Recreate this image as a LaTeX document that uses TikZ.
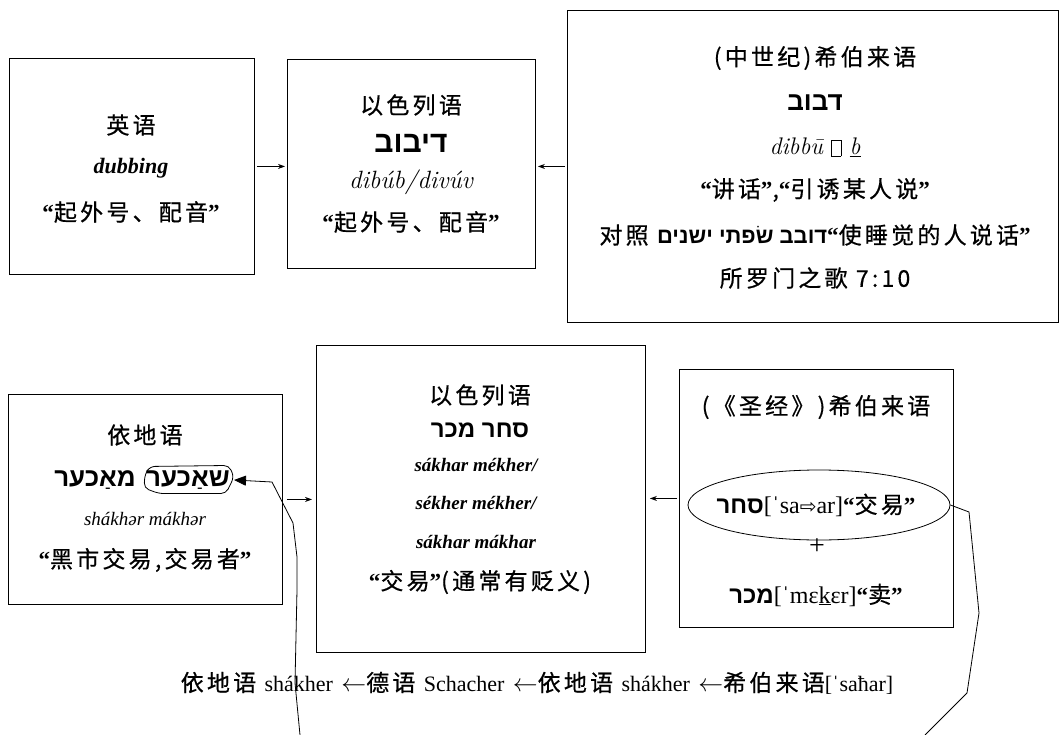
\documentclass[tikz,border=0pt]{standalone}
\usepackage{fontspec}
\usetikzlibrary{arrows.meta,shapes.geometric,calc}
\TeXXeTstate=1
\newfontfamily\cjk[LetterSpace=14,FakeBold=0.6]{Noto Sans CJK SC}
\newfontfamily\heb[Script=Hebrew]{Liberation Sans}
\newfontfamily\tnr{Liberation Serif}
\newfontfamily\dv{DejaVu Sans}
\newcommand\oq{{\tnr\bfseries “}}
\newcommand\cq{{\tnr\bfseries ”}}
\newcommand\missingbox{{\fboxsep=0pt\fboxrule=0.5pt\raisebox{-2pt}{\fbox{\rule{0pt}{16pt}\hspace{9pt}}}}}
\begin{document}
\begin{tikzpicture}[x=1pt,y=-1pt,
  box/.style={draw, line width=0.9pt, anchor=north west, inner sep=0pt},
  tx/.style={inner sep=1pt, font=\cjk\fontsize{23}{26}\selectfont},
  hb/.style={inner sep=1pt, font=\heb\bfseries\fontsize{26}{28}\selectfont},
  arr/.style={-{Stealth[length=7pt,width=5pt]}, line width=0.8pt},
  bigarr/.style={-{Triangle[length=12pt,width=10pt]}, line width=0.8pt},
  conn/.style={line width=0.8pt}]
\fill[white] (0,0) rectangle (1062,735);
\useasboundingbox (0,0) rectangle (1062,735);
% boxes
\node[box, minimum width=245, minimum height=216] (A) at (9,58) {};
\node[box, minimum width=248, minimum height=209] (B) at (287,59) {};
\node[box, minimum width=491, minimum height=312] (C) at (567,10) {};
\node[box, minimum width=274, minimum height=210] (D) at (8,394) {};
\node[box, minimum width=329, minimum height=307] (E) at (316,345) {};
\node[box, minimum width=274, minimum height=258] (F) at (679,369) {};
% box A
\node[tx] (a1) at (131,125) {英语};
\node[tx, font=\tnr\bfseries\itshape\fontsize{22}{26}\selectfont] (a2) at (131,168) {dubbing};
\node[tx] (a3) at (131,212) {\oq 起外号、配音\cq};
% box B
\node[tx] (b1) at (411,105) {以色列语};
\node[hb, font=\heb\bfseries\fontsize{30}{30}\selectfont] (b2) at (411,143) {\beginR דיבוב\endR};
\node[tx, font=\itshape\fontsize{25}{26}\selectfont] (b3) at (411,182) {dibúb/divúv};
\node[tx] (b4) at (411,222) {\oq 起外号、配音\cq};
% box C
\node[tx] (c1) at (815,58) {(中世纪)希伯来语};
\node[hb] (c2) at (815,103) {\beginR דבוב\endR};
\node[tx, font=\itshape\fontsize{24}{26}\selectfont] (c3) at (815,147) {dibbū \missingbox\ \underline{b}};
\node[tx] (c4) at (815,190) {\oq 讲话\cq,\oq 引诱某人说\cq};
\node[tx] (c5) at (815,235) {对照 {\heb\bfseries\fontsize{22}{24}\selectfont\beginR דובב שׂפתי ישנים\endR}\oq 使睡觉的人说话\cq};
\node[tx] (c6) at (815,278) {所罗门之歌 7:10};
% box D
\node[tx] (d1) at (145,435) {依地语};
\node[hb, anchor=east] (mak) at (137,480) {\beginR מאַכער\endR};
\node[hb, anchor=west, inner sep=3pt] (shak) at (143,480) {\beginR שאַכער\endR};
\draw[rounded corners=5pt, line width=0.8pt] ($(shak.west)+(2,-6)$) -- ($(shak.north west)+(7,-1)$) -- ($(shak.north east)+(-4,-2)$) -- ($(shak.east)+(1,-3)$) -- ($(shak.south east)+(-7,1)$) -- ($(shak.south west)+(16,1)$) -- ($(shak.west)+(1,8)$) -- cycle;
\node[tx, font=\tnr\itshape\fontsize{19}{24}\selectfont] (d3) at (145,519) {shákhər mákhər};
\node[tx] (d4) at (145,560) {\oq 黑市交易,交易者\cq};
% box E
\node[tx] (e1) at (480,395) {以色列语};
\node[hb, font=\heb\bfseries\fontsize{24}{26}\selectfont] (e2) at (480,430) {\beginR סחר מכר\endR};
\node[tx, font=\tnr\bfseries\itshape\fontsize{19}{24}\selectfont] (e3) at (476,465) {sákhar mékher/};
\node[tx, font=\tnr\bfseries\itshape\fontsize{19}{24}\selectfont] (e4) at (476,503) {sékher mékher/};
\node[tx, font=\tnr\bfseries\itshape\fontsize{19}{24}\selectfont] (e5) at (476,542) {sákhar mákhar};
\node[tx] (e6) at (480,582) {\oq 交易\cq(通常有贬义)};
% box F
\node[tx] (f1) at (816,407) {(《圣经》)希伯来语};
\node[draw, ellipse, line width=0.8pt, minimum width=262, minimum height=70, inner sep=0pt] (ell) at (819,505) {};
\node[tx] (f2) at (816,505) {{\heb\bfseries\fontsize{24}{26}\selectfont\beginR סחר\endR}{\tnr\fontsize{24}{26}\selectfont[ˈsa{\dv\fontsize{20}{22}\selectfont ⇨}ar]}\oq 交易\cq};
\node[tx, font=\tnr\fontsize{28}{28}\selectfont] (plus) at (817,547) {+};
\node[tx] (f3) at (816,595) {{\heb\bfseries\fontsize{24}{26}\selectfont\beginR מכר\endR}{\tnr\fontsize{24}{26}\selectfont[ˈmɛ\underline{k}ɛr]}\oq 卖\cq};
% bottom line
\node[tx] (bot) at (537,683) {依地语 {\tnr\fontsize{22}{26}\selectfont shákher} $\leftarrow$德语 {\tnr\fontsize{22}{26}\selectfont Schacher} $\leftarrow$依地语 {\tnr\fontsize{22}{26}\selectfont shákher} $\leftarrow$希伯来语{\tnr\fontsize{22}{26}\selectfont[ˈsaħar]}};
% arrows between boxes
\draw[arr] ([xshift=2pt]A.east) -- ([xshift=-2pt]A.east -| B.west);
\draw[arr] ([xshift=-2pt]C.west) -- ([xshift=2pt]C.west -| B.east);
\draw[arr] ([xshift=4pt]D.east) -- ([xshift=-4pt]D.east -| E.west);
\draw[arr] ([xshift=-2pt]F.west) -- ([xshift=4pt]F.west -| E.east);
% long connector (runs off the bottom of the page)
\coordinate (offR) at (925,735);
\coordinate (offL) at (300,735);
\draw[conn] (ell.east) -- (969,512) -- (979,613) -- (967,693) -- (offR);
\draw[bigarr] (offL) -- (295,683) -- (297,590) -- (297,557) -- (293,523) -- (272,482) -- ([xshift=1pt]shak.east);
\end{tikzpicture}
\end{document}
